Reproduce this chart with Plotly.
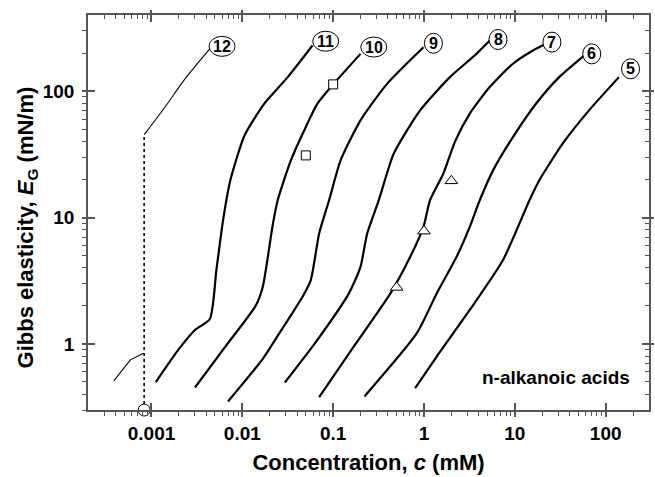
import numpy as np
import plotly.graph_objects as go

# ---------------- data ----------------
c12_low = [0.000384, 0.000585, 0.000818]
E12_low = [0.51, 0.748, 0.845]
c12_high = [0.000832, 0.00141, 0.00234, 0.00438]
E12_high = [45.3, 74.8, 125, 216]
c12_cmc = [0.00083, 0.00083]
E12_cmc = [0.3, 45.3]

c11 = [0.001115, 0.00197, 0.00301, 0.00439, 0.00518, 0.00614, 0.00738, 0.0106, 0.01754, 0.0316, 0.0592]
E11 = [0.499, 0.897, 1.29, 1.575, 3.84, 9.53, 19.7, 44.7, 80, 129, 229.6]

c10 = [0.00301, 0.0065, 0.01419, 0.0168, 0.0216, 0.0245, 0.0343, 0.0481, 0.0671, 0.1, 0.2]
E10 = [0.452, 0.953, 2.03, 2.83, 8.7, 13.7, 28.4, 49, 79.5, 113, 197]

c9 = [0.00695, 0.0168, 0.0245, 0.046, 0.0567, 0.0701, 0.0902, 0.121, 0.2, 0.392, 0.987]
E9 = [0.350, 0.762, 1.157, 2.36, 3.2, 7.48, 13.7, 28.4, 58.7, 114, 222]

c8 = [0.0294, 0.0671, 0.149, 0.200, 0.237, 0.318, 0.464, 0.906, 1.93, 3.78, 5.29]
E8 = [0.495, 1.076, 2.51, 4.07, 7.48, 13.7, 32, 70.4, 129, 197, 251]

c7 = [0.0701, 0.1727, 0.427, 0.705, 0.987, 1.166, 1.635, 2.2, 3.19, 5.29, 9.53, 15.8, 22.0]
E7 = [0.38, 0.977, 2.51, 4.89, 8.44, 13.7, 22.3, 40.0, 66.3, 107.6, 164.6, 209.6, 236.7]

c6 = [0.221, 0.834, 1.38, 2.285, 3.19, 4.11, 5.76, 9.53, 17.1, 30.8, 57.9]
E6 = [0.384, 1.215, 2.51, 4.89, 8.44, 13.7, 23.6, 43.3, 79.5, 129, 191]

c5 = [0.799, 1.38, 3.19, 7.41, 14.5, 18.6, 33.6, 65.6, 140]
E5 = [0.447, 0.794, 1.855, 4.61, 13.7, 19.7, 38.4, 70.4, 129]

sq_c = [0.05, 0.1]
sq_E = [31, 113]
tri_c = [0.5, 1.0, 2.0]
tri_E = [2.8, 7.8, 19.5]

labels = ["12", "11", "10", "9", "8", "7", "6", "5"]
label_c = [0.00598, 0.0828, 0.280, 1.27, 6.53, 25.6, 70.3, 188]
label_E = [226, 248, 223, 239, 256, 244, 197, 150]

x_tickvals = [0.001, 0.01, 0.1, 1, 10, 100]
x_ticktext = ["0.001", "0.01", "0.1", "1", "10", "100"]
y_tickvals = [1, 10, 100]
y_ticktext = ["1", "10", "100"]
x_range = [0.0002, 300]
y_range = [0.3, 400]

# ---------------- figure ----------------
FONT = "Liberation Sans"
AXC = "#555555"
xr = [np.log10(x_range[0]), np.log10(x_range[1])]
yr = [np.log10(y_range[0]), np.log10(y_range[1])]


def minor_vals(lo, hi):
    vals = []
    for d in range(int(np.floor(np.log10(lo))), int(np.ceil(np.log10(hi))) + 1):
        for m in range(2, 10):
            v = m * 10.0 ** d
            if lo < v < hi:
                vals.append(v)
    return vals


mx = minor_vals(*x_range)
my = minor_vals(*y_range)

fig = go.Figure()

thick = dict(color="black", width=2.2)
for cc, ee in [(c11, E11), (c10, E10), (c9, E9), (c8, E8), (c7, E7), (c6, E6), (c5, E5)]:
    fig.add_trace(go.Scatter(x=cc, y=ee, mode="lines", line=dict(**thick, shape="spline", smoothing=0.6),
                             showlegend=False, hoverinfo="skip"))

fig.add_trace(go.Scatter(x=c12_low, y=E12_low, mode="lines", line=dict(color="black", width=1.1),
                         showlegend=False))
fig.add_trace(go.Scatter(x=c12_high, y=E12_high, mode="lines", line=dict(color="black", width=1.1, shape="spline"),
                         showlegend=False))
fig.add_trace(go.Scatter(x=c12_cmc, y=E12_cmc, mode="lines", line=dict(color="black", width=1.6, dash="dot"),
                         showlegend=False))
fig.add_trace(go.Scatter(x=[c12_cmc[0]], y=[E12_cmc[0]], mode="markers", cliponaxis=False,
                         marker=dict(symbol="circle", size=12, color="white", line=dict(color="black", width=1)),
                         showlegend=False))

fig.add_trace(go.Scatter(x=sq_c, y=sq_E, mode="markers",
                         marker=dict(symbol="square", size=9, color="white", line=dict(color="black", width=1)),
                         showlegend=False))
fig.add_trace(go.Scatter(x=tri_c, y=tri_E, mode="markers",
                         marker=dict(symbol="triangle-up", size=11, color="white", line=dict(color="black", width=1)),
                         showlegend=False))

# empty traces so the overlay axes (used only for tick styling) are drawn
fig.add_trace(go.Scatter(x=[None], y=[None], xaxis="x2", yaxis="y2", showlegend=False))
fig.add_trace(go.Scatter(x=[None], y=[None], xaxis="x3", yaxis="y3", showlegend=False))

shapes = []
annotations = []
for t, lc, le in zip(labels, label_c, label_E):
    w = 26 if len(t) == 2 else 18
    h = 20
    # anchor the pixel-sized ellipse in paper units derived from the log axis ranges
    px = (np.log10(lc) - xr[0]) / (xr[1] - xr[0])
    py = (np.log10(le) - yr[0]) / (yr[1] - yr[0])
    shapes.append(dict(type="circle", xref="paper", yref="paper", xsizemode="pixel", ysizemode="pixel",
                       xanchor=px, yanchor=py, x0=-w / 2, x1=w / 2, y0=-h / 2, y1=h / 2,
                       fillcolor="white", line=dict(color="black", width=1), layer="above"))
    annotations.append(dict(x=np.log10(lc), y=np.log10(le), xref="x", yref="y", text=t, showarrow=False,
                            font=dict(family=FONT, size=16, color="black", weight="bold")))

annotations.append(dict(x=0.970, y=0.082, xref="paper", yref="paper", xanchor="right", yanchor="middle",
                        text="n-alkanoic acids", showarrow=False,
                        font=dict(family=FONT, size=19, color="black", weight="bold")))

titlefont = dict(family=FONT, size=22, color="black", weight="bold")
annotations.append(dict(x=(27 - 88) / 565, y=(410 - 227) / 395, xref="paper", yref="paper",
                        xanchor="center", yanchor="middle", textangle=-90, showarrow=False,
                        text="Gibbs elasticity, <i>E</i><sub>G</sub> (mN/m)", font=titlefont))

tickfont = dict(family=FONT, size=19, color="black", weight="bold")
common = dict(type="log", showgrid=False, zeroline=False, tickcolor=AXC, tickwidth=1.5)

fig.update_layout(
    width=655, height=477,
    margin=dict(l=88, r=2, t=15, b=67),
    plot_bgcolor="white", paper_bgcolor="white",
    shapes=shapes, annotations=annotations,
    xaxis=dict(**common, range=xr, tickvals=x_tickvals, ticktext=x_ticktext, ticks="outside", ticklen=5,
               minor=dict(tickvals=mx, ticks="outside", ticklen=4, tickcolor=AXC, tickwidth=1),
               showline=True, linecolor=AXC, linewidth=1.5, mirror=True, tickfont=tickfont,
               ticklabelstandoff=0,
               title=dict(text="Concentration, <i>c</i> (mM)", font=titlefont, standoff=12)),
    xaxis2=dict(**common, range=xr, tickvals=x_tickvals, ticks="inside", ticklen=7, mirror="ticks",
                overlaying="x", side="bottom", anchor="y", showticklabels=False, showline=False),
    xaxis3=dict(**common, range=xr, tickvals=x_tickvals, ticks="outside", ticklen=4,
                minor=dict(tickvals=mx, ticks="inside", ticklen=4, tickcolor=AXC, tickwidth=1),
                overlaying="x", side="top", anchor="y", showticklabels=False, showline=False),
    yaxis=dict(**common, range=yr, tickvals=y_tickvals, ticktext=y_ticktext, ticks="outside", ticklen=4,
               minor=dict(tickvals=my, ticks="outside", ticklen=4, tickcolor=AXC, tickwidth=1),
               showline=True, linecolor=AXC, linewidth=1.5, mirror=True, tickfont=tickfont,
               ticklabelstandoff=4),
    yaxis2=dict(**common, range=yr, tickvals=y_tickvals, ticks="inside", ticklen=7, mirror="ticks",
                overlaying="y", side="left", anchor="x", showticklabels=False, showline=False),
    yaxis3=dict(**common, range=yr, tickvals=y_tickvals, ticks="outside", ticklen=4,
                minor=dict(tickvals=my, ticks="inside", ticklen=4, tickcolor=AXC, tickwidth=1),
                overlaying="y", side="right", anchor="x", showticklabels=False, showline=False),
)

fig.write_html("out.html")
